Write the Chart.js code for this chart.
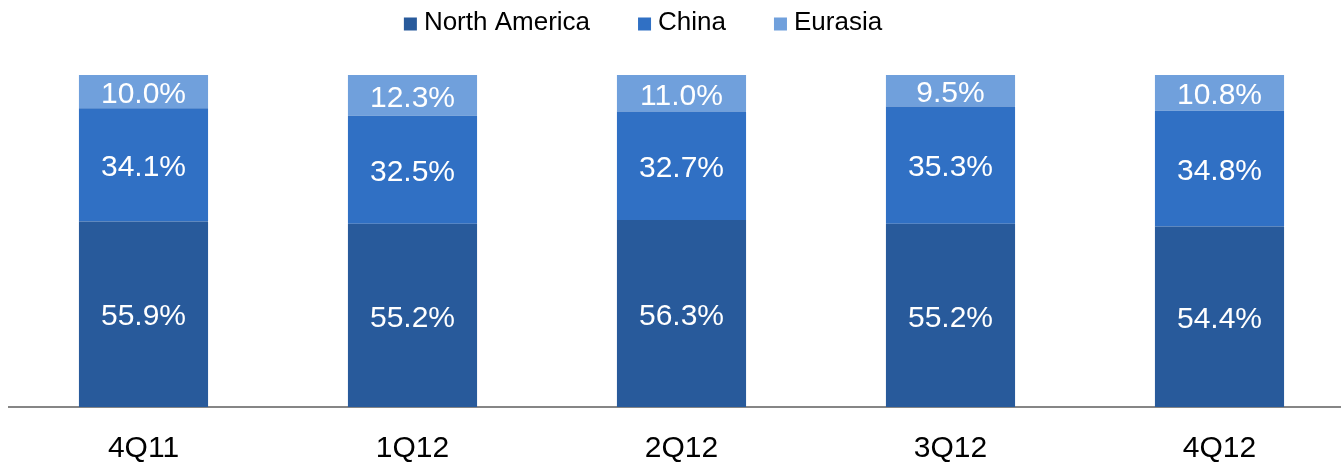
<!DOCTYPE html>
<html>
<head>
<meta charset="utf-8">
<script src="https://cdn.jsdelivr.net/npm/chart.js@4/dist/chart.umd.min.js"></script>
<style>
html,body{margin:0;padding:0;background:#fff;overflow:hidden;width:1341px;height:463px;}
#c{position:absolute;left:0;top:0;}
</style>
</head>
<body>
<canvas id="c" width="1354" height="465"></canvas>
<script>
const categories = ['4Q11', '1Q12', '2Q12', '3Q12', '4Q12'];
const seriesNames = ['North America', 'China', 'Eurasia'];
const northAmerica = [55.9, 55.2, 56.3, 55.2, 54.4];
const china = [34.1, 32.5, 32.7, 35.3, 34.8];
const eurasia = [10.0, 12.3, 11.0, 9.5, 10.8];
const colors = ['#285A9B', '#3070C4', '#70A0DC'];

const FONT = "'Liberation Sans', Arial, Helvetica, sans-serif";

const labelPlugin = {
  id: 'segLabels',
  afterDatasetsDraw(chart) {
    const ctx = chart.ctx;
    ctx.save();
    ctx.fillStyle = '#ffffff';
    ctx.font = '30px ' + FONT;
    ctx.textAlign = 'center';
    ctx.textBaseline = 'middle';
    chart.data.datasets.forEach((ds, i) => {
      const meta = chart.getDatasetMeta(i);
      meta.data.forEach((el, j) => {
        const cy = (el.y + el.base) / 2 + 3;
        ctx.fillText(ds.data[j].toFixed(1) + '%', el.x, cy);
      });
    });
    ctx.restore();
  }
};

const legendPlugin = {
  id: 'customLegend',
  afterDraw(chart) {
    const ctx = chart.ctx;
    ctx.save();
    ctx.font = '26px ' + FONT;
    ctx.textBaseline = 'middle';
    ctx.textAlign = 'left';
    const box = 13, gap = 7, itemGap = 48;
    const items = chart.data.datasets.map(d => ({label: d.label, color: d.backgroundColor, w: ctx.measureText(d.label).width}));
    let total = items.reduce((s, it) => s + box + gap + it.w, 0) + itemGap * (items.length - 1);
    let x = 643 - total / 2;
    const cy = 23;
    items.forEach(it => {
      ctx.fillStyle = it.color;
      ctx.fillRect(x, cy - box / 2 + 1, box, box);
      x += box + gap;
      ctx.fillStyle = '#000000';
      ctx.fillText(it.label, x, cy);
      x += it.w + itemGap;
    });
    ctx.restore();
  }
};

const datasets = [northAmerica, china, eurasia].map((arr, i) => ({
  label: seriesNames[i],
  data: arr,
  backgroundColor: colors[i],
  borderWidth: 0,
  categoryPercentage: 1.0,
  barPercentage: 0.48
}));

new Chart(document.getElementById('c'), {
  type: 'bar',
  data: { labels: categories, datasets },
  plugins: [labelPlugin, legendPlugin],
  options: {
    responsive: false,
    maintainAspectRatio: false,
    animation: false,
    layout: { padding: { left: 9, top: 75, right: 0, bottom: 0 } },
    plugins: { legend: { display: false }, tooltip: { enabled: false } },
    scales: {
      x: {
        stacked: true,
        afterFit(scale) { scale.height = 58; },
        grid: { display: false, drawTicks: false },
        border: { display: true, color: '#868686', width: 2 },
        ticks: { color: '#000000', font: { family: FONT, size: 30 }, padding: 24 }
      },
      y: {
        stacked: true,
        min: 0, max: 100,
        display: false
      }
    }
  }
});
</script>
</body>
</html>
